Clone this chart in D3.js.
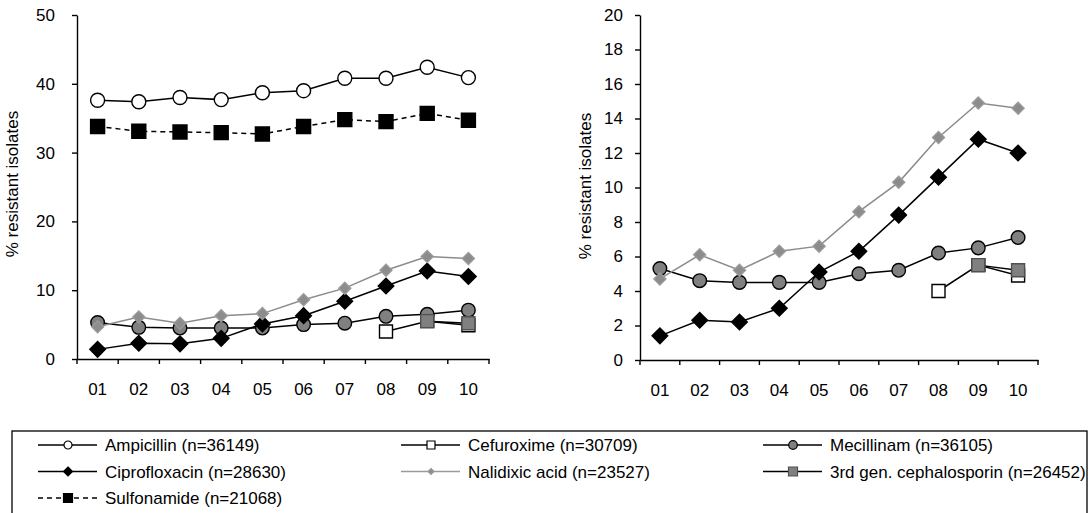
<!DOCTYPE html>
<html><head><meta charset="utf-8">
<script src="https://cdn.jsdelivr.net/npm/d3@7"></script>
<style>
body{margin:0;background:#fff}
svg text{font-family:"Liberation Sans",Arial,sans-serif;fill:#000}
</style>
</head><body>
<svg id="c" width="1091" height="513"></svg>
<script>
// ---------- data ----------
const years = ["01","02","03","04","05","06","07","08","09","10"];
const ampicillin    = [37.6, 37.4, 38.0, 37.7, 38.7, 39.0, 40.8, 40.8, 42.4, 40.9];
const cefuroxime    = [null, null, null, null, null, null, null, 4.0, 5.5, 4.9];
const mecillinam    = [5.3, 4.6, 4.5, 4.5, 4.5, 5.0, 5.2, 6.2, 6.5, 7.1];
const ciprofloxacin = [1.4, 2.3, 2.2, 3.0, 5.1, 6.3, 8.4, 10.6, 12.8, 12.0];
const nalidixic     = [4.7, 6.1, 5.2, 6.3, 6.6, 8.6, 10.3, 12.9, 14.9, 14.6];
const cephalosporin3 = [null, null, null, null, null, null, null, null, 5.5, 5.2];
const sulfonamide   = [33.8, 33.1, 33.0, 32.9, 32.7, 33.8, 34.8, 34.5, 35.7, 34.7];
const leftTicks  = [0, 10, 20, 30, 40, 50];
const rightTicks = [0, 2, 4, 6, 8, 10, 12, 14, 16, 18, 20];
const legendLabels = ["Ampicillin (n=36149)","Cefuroxime (n=30709)","Mecillinam (n=36105)",
  "Ciprofloxacin (n=28630)","Nalidixic acid (n=23527)","3rd gen. cephalosporin (n=26452)",
  "Sulfonamide (n=21068)"];
const yTitle = "% resistant isolates";

// ---------- styles ----------
const series = [
  {key:"amp", values:ampicillin, shape:"circle", size:7, fill:"#fff", stroke:"#000", line:"#000", dash:null, left:true, right:false, lsize:4},
  {key:"cef", values:cefuroxime, shape:"square", size:6.5, fill:"#fff", stroke:"#000", line:"#000", dash:null, left:true, right:true, lsize:4},
  {key:"mec", values:mecillinam, shape:"circle", size:6.8, fill:"#808080", stroke:"#000", line:"#000", dash:null, left:true, right:true, lsize:4.3},
  {key:"cip", values:ciprofloxacin, shape:"diamond", size:7.8, fill:"#000", stroke:"#000", line:"#000", dash:null, left:true, right:true, lsize:4.5},
  {key:"nal", values:nalidixic, shape:"diamond", size:6, fill:"#8c8c8c", stroke:"#9a9a9a", line:"#8c8c8c", dash:null, left:true, right:true, lsize:3},
  {key:"ceph", values:cephalosporin3, shape:"square", size:6.5, fill:"#808080", stroke:"#505050", line:"#000", dash:null, left:true, right:true, lsize:4.5},
  {key:"sul", values:sulfonamide, shape:"fsquare", size:7, fill:"#000", stroke:"#000", line:"#000", dash:"5,4", left:true, right:false, lsize:4.5}
];

function shapePath(shape, s){
  if (shape === "circle") return `M${-s},0A${s},${s} 0 1,0 ${s},0A${s},${s} 0 1,0 ${-s},0Z`;
  if (shape === "diamond") return `M0,${-s}L${s},0L0,${s}L${-s},0Z`;
  return `M${-s},${-s}H${s}V${s}H${-s}Z`;
}

const svg = d3.select("#c");
const FS = 17;

function panel(cfg){
  const x = d3.scaleBand().domain(years).range([cfg.x0, cfg.x1]).padding(0);
  const y = d3.scaleLinear().domain([0, cfg.ymax]).range([cfg.y0, cfg.y1]);
  const g = svg.append("g");

  // y axis
  const ya = g.append("g").attr("transform",`translate(${cfg.x0},0)`)
    .call(d3.axisLeft(y).tickValues(cfg.ticks).tickSize(5).tickPadding(cfg.ypad).tickSizeOuter(0));
  ya.select(".domain").attr("stroke","#000").attr("stroke-width",1.4);
  ya.selectAll(".tick line").attr("stroke","#000").attr("stroke-width",1.4);
  ya.selectAll("text").attr("font-size",FS).attr("font-family","Liberation Sans, Arial, sans-serif").attr("fill","#000");

  // x axis: labels at band centres, ticks at band edges
  const xa = g.append("g").attr("transform",`translate(0,${cfg.y0})`)
    .call(d3.axisBottom(x).tickSize(0).tickPadding(24).tickSizeOuter(0));
  xa.select(".domain").attr("stroke","#000").attr("stroke-width",1.4);
  xa.selectAll("text").attr("font-size",FS).attr("font-family","Liberation Sans, Arial, sans-serif").attr("fill","#000");
  const edges = years.map(d => x(d)).concat([x(years[years.length-1]) + x.bandwidth()]);
  g.selectAll(".xt").data(edges).enter().append("line")
    .attr("x1", d=>d).attr("x2", d=>d).attr("y1", cfg.y0).attr("y2", cfg.y0+5)
    .attr("stroke","#000").attr("stroke-width",1.4);

  // title
  g.append("text").attr("transform",`translate(${cfg.tx},${cfg.ty}) rotate(-90)`)
    .attr("text-anchor","middle").attr("font-size",FS).text(yTitle);

  const cx = d => x(d) + x.bandwidth()/2;
  series.filter(s => s[cfg.side]).forEach(s => {
    const pts = years.map((yr,i)=>({yr, v:s.values[i]})).filter(p => p.v != null);
    const line = d3.line().x(p=>cx(p.yr)).y(p=>y(p.v));
    g.append("path").attr("d", line(pts)).attr("fill","none")
      .attr("stroke", s.line).attr("stroke-width",1.5)
      .attr("stroke-dasharray", s.dash);
    g.selectAll(null).data(pts).enter().append("path")
      .attr("transform", p=>`translate(${cx(p.yr)},${y(p.v)})`)
      .attr("d", shapePath(s.shape, s.size))
      .attr("fill", s.fill).attr("stroke", s.stroke).attr("stroke-width",1.4);
  });
}

panel({side:"left", x0:77, x1:489, y0:359, y1:15, ymax:50, ticks:leftTicks, ypad:17, tx:18, ty:184});
panel({side:"right", x0:640, x1:1038, y0:360, y1:15, ymax:20, ticks:rightTicks, ypad:12, tx:591, ty:186});

// ---------- legend ----------
const lg = svg.append("g");
lg.append("rect").attr("x",12).attr("y",431).attr("width",1075).attr("height",100)
  .attr("fill","none").attr("stroke","#000").attr("stroke-width",1.3);
const colX = [38, 401, 763];
const rowY = [445, 471.5, 498];
series.forEach((s,i) => {
  const cx0 = colX[i % 3], cy = rowY[Math.floor(i/3)];
  const it = lg.append("g").attr("transform",`translate(${cx0},${cy})`);
  it.append("line").attr("x1",0).attr("x2",59).attr("y1",0).attr("y2",0)
    .attr("stroke", s.line === "#8c8c8c" ? "#9a9a9a" : s.line).attr("stroke-width",1.4)
    .attr("stroke-dasharray", s.dash);
  it.append("path").attr("transform","translate(30,0)").attr("d", shapePath(s.shape, s.lsize))
    .attr("fill", s.fill).attr("stroke", s.stroke).attr("stroke-width",1.2);
  it.append("text").attr("x",67).attr("y",6).attr("font-size",FS).text(legendLabels[i]);
});
</script>
</body></html>
